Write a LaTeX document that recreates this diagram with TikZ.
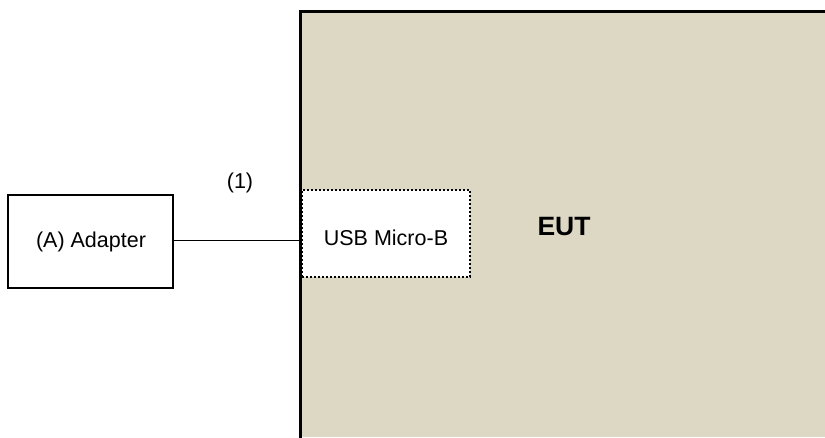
\documentclass[tikz,border=0pt]{standalone}
\usepackage{fontspec}
\setmainfont{Liberation Sans}
\definecolor{eutfill}{HTML}{DDD8C3}
\begin{document}
\begin{tikzpicture}[x=1pt,y=1pt,
  box/.style={draw=black,line width=2.2pt,minimum width=165pt,minimum height=93pt,inner sep=0pt},
  usb/.style={draw=black,dotted,line width=2pt,fill=white,minimum width=168pt,minimum height=87pt,inner sep=0pt},
  lbl/.style={font=\fontsize{21.5}{24}\selectfont,inner sep=0pt}]
\useasboundingbox (0,0) rectangle (825,-437);
% EUT area
\fill[eutfill] (300,-11) rectangle (825,-437);
\draw[line width=3pt,line cap=rect] (300,-437) -- (300,-11) -- (825,-11);
\node[font=\fontsize{26.5}{30}\selectfont\bfseries,inner sep=0pt] (eut) at (564,-226.5) {EUT};
% USB box
\node[usb] (usb) at (386,-233.5) {};
\node[lbl] (usbt) at (386,-238) {USB Micro-B};
% Adapter
\node[box] (adapter) at (90.5,-241.5) {};
\node[lbl] (adt) at (91,-242) {(A) Adapter};
% cable
\coordinate (cA) at (174,-240.5);
\coordinate (cB) at (301,-240.5);
\draw[line width=1.8pt] (cA) -- (cB);
\node[lbl] (one) at (240,-183) {(1)};
\end{tikzpicture}
\end{document}
